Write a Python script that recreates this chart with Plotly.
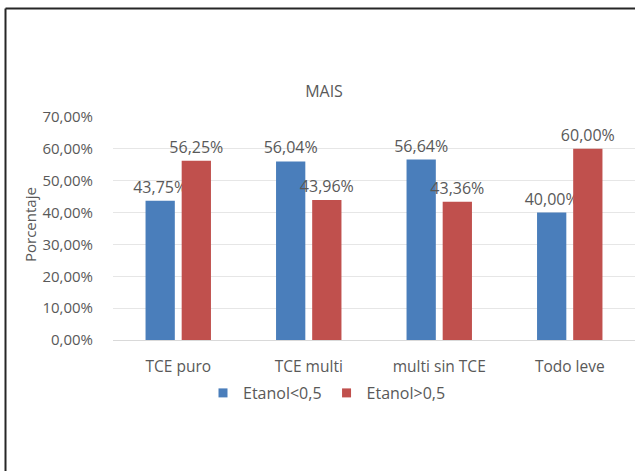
import plotly.graph_objects as go

categories = ["TCE puro", "TCE multi", "multi sin TCE", "Todo leve"]
etanol_bajo = [0.4375, 0.5604, 0.5664, 0.40]
etanol_alto = [0.5625, 0.4396, 0.4336, 0.60]
series_names = ["Etanol<0,5", "Etanol>0,5"]
series_colors = ["#4a7ebb", "#c0504d"]
y_ticks = [0, 0.1, 0.2, 0.3, 0.4, 0.5, 0.6, 0.7]

W, H = 635, 471
L, R, T, B = 113, 0, 117, 131
pw, ph = W - L - R, H - T - B

def px_x(x):
    return (x - L) / pw

def px_y(y):
    return (H - B - y) / ph

FONT = "Open Sans"
GRAY = "#595959"

fig = go.Figure()
for vals, name, col in zip([etanol_bajo, etanol_alto], series_names, series_colors):
    fig.add_trace(go.Bar(x=categories, y=vals, name=name, showlegend=False,
                         marker=dict(color=col, line=dict(width=0)),
                         texttemplate="%{y:.2%}", textposition="outside",
                         constraintext="none",
                         textfont=dict(family=FONT, size=16, color=GRAY),
                         cliponaxis=False))
for name, col in zip(series_names, series_colors):
    fig.add_trace(go.Scatter(x=[None], y=[None], mode="markers", name=name,
                             marker=dict(symbol="square", size=9, color=col),
                             showlegend=True))

fig.update_layout(
    width=W, height=H,
    margin=dict(l=L, r=R, t=T, b=B, autoexpand=False),
    paper_bgcolor="white", plot_bgcolor="white",
    separators=",.",
    barmode="group", bargap=0.446, bargroupgap=0.19,
    font=dict(family=FONT, size=15, color=GRAY),
    title=dict(text="MAIS", x=px_x(324), xref="paper", xanchor="center",
               y=1 - 91 / H, yanchor="middle",
               font=dict(family=FONT, size=16, color=GRAY)),
    showlegend=True,
    legend=dict(orientation="h", x=px_x(327), xanchor="center",
                y=px_y(393), yanchor="middle",
                font=dict(family=FONT, size=16, color=GRAY),
                itemwidth=30, traceorder="normal"),
    xaxis=dict(showgrid=False, showline=True, linecolor="#d9d9d9", linewidth=1,
               ticks="", ticklabelstandoff=12,
               tickfont=dict(family=FONT, size=15.5, color=GRAY)),
    yaxis=dict(range=[0, 0.7], tickvals=y_ticks, tickformat=".2%",
               showgrid=True, gridcolor="#e6e6e6", gridwidth=1,
               zeroline=False, showline=False, ticks="",
               ticklabelstandoff=19,
               tickfont=dict(family=FONT, size=15, color=GRAY)),
    annotations=[dict(text="Porcentaje", xref="paper", yref="paper",
                      x=px_x(30), y=px_y(225), textangle=-90, showarrow=False,
                      xanchor="center", yanchor="middle",
                      font=dict(family=FONT, size=15, color=GRAY))],
    shapes=[
        dict(type="line", xref="paper", yref="paper",
             x0=px_x(5.5), x1=px_x(640), y0=px_y(8.5), y1=px_y(8.5),
             line=dict(color="#262626", width=2)),
        dict(type="line", xref="paper", yref="paper",
             x0=px_x(5.5), x1=px_x(5.5), y0=px_y(8.5), y1=px_y(475),
             line=dict(color="#262626", width=2)),
    ],
)

fig.write_html("out.html", config={"displayModeBar": False},
               post_script="document.body.style.margin='0px';")
